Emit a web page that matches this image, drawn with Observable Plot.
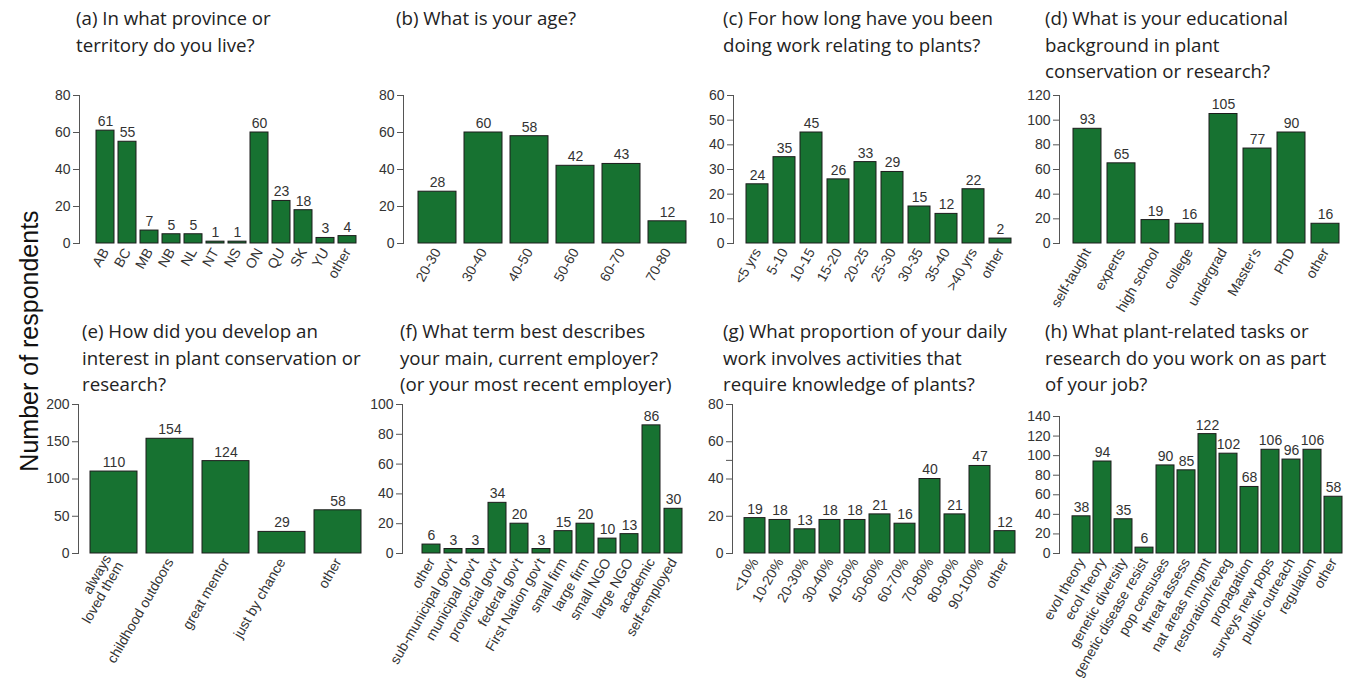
<!DOCTYPE html>
<html>
<head>
<meta charset="utf-8">
<script src="https://cdn.jsdelivr.net/npm/d3@7"></script>
<script src="https://cdn.jsdelivr.net/npm/@observablehq/plot@0.6"></script>
<style>
  html, body { margin: 0; padding: 0; background: #fff; }
  #chart { position: relative; width: 1348px; height: 679px; overflow: hidden; background: #fff; }
  .title { position: absolute; font-family: "Open Sans", sans-serif; font-size: 18.7px; line-height: 26.5px; color: #222; white-space: nowrap; }
  .ylab { position: absolute; font-family: "Liberation Sans", Arial, sans-serif; font-size: 25px; color: #111; white-space: nowrap;
          transform: translate(-50%, -50%) rotate(-90deg); }
  svg.panel { position: absolute; overflow: visible; }
</style>
</head>
<body>
<div id="chart"></div>
<script>
// (a) province or territory
const provinceLabels = ["AB", "BC", "MB", "NB", "NL", "NT", "NS", "ON", "QU", "SK", "YU", "other"];
const provinceCounts = [61, 55, 7, 5, 5, 1, 1, 60, 23, 18, 3, 4];
const provinceTicks = [0, 20, 40, 60, 80];

// (b) age
const ageLabels = ["20-30", "30-40", "40-50", "50-60", "60-70", "70-80"];
const ageCounts = [28, 60, 58, 42, 43, 12];
const ageTicks = [0, 20, 40, 60, 80];

// (c) years working with plants
const yearsLabels = ["<5 yrs", "5-10", "10-15", "15-20", "20-25", "25-30", "30-35", "35-40", ">40 yrs", "other"];
const yearsCounts = [24, 35, 45, 26, 33, 29, 15, 12, 22, 2];
const yearsTicks = [0, 10, 20, 30, 40, 50, 60];

// (d) educational background
const eduLabels = ["self-taught", "experts", "high school", "college", "undergrad", "Master's", "PhD", "other"];
const eduCounts = [93, 65, 19, 16, 105, 77, 90, 16];
const eduTicks = [0, 20, 40, 60, 80, 100, 120];

// (e) how interest developed
const interestLabels = ["always\nloved them", "childhood outdoors", "great mentor", "just by chance", "other"];
const interestCounts = [110, 154, 124, 29, 58];
const interestTicks = [0, 50, 100, 150, 200];

// (f) employer
const employerLabels = ["other", "sub-municipal gov't", "municipal gov't", "provincial gov't", "federal gov't", "First Nation gov't",
  "small firm", "large firm", "small NGO", "large NGO", "academic", "self-employed"];
const employerCounts = [6, 3, 3, 34, 20, 3, 15, 20, 10, 13, 86, 30];
const employerTicks = [0, 20, 40, 60, 80, 100];

// (g) share of work needing plant knowledge
const shareLabels = ["<10%", "10-20%", "20-30%", "30-40%", "40-50%", "50-60%", "60-70%", "70-80%", "80-90%", "90-100%", "other"];
const shareCounts = [19, 18, 13, 18, 18, 21, 16, 40, 21, 47, 12];
const shareTicks = [0, 20, 40, 50, 60, 80];
const shareTickLabels = ["0", "20", "40", "", "60", "80"];

// (h) plant-related tasks
const taskLabels = ["evol theory", "ecol theory", "genetic diversity", "genetic disease resist", "pop censuses", "threat assess",
  "nat areas mngmt", "restoration/reveg", "propagation", "surveys new pops", "public outreach", "regulation", "other"];
const taskCounts = [38, 94, 35, 6, 90, 85, 122, 102, 68, 106, 96, 106, 58];
const taskTicks = [0, 20, 40, 60, 80, 100, 120, 140];

const panels = [
  {labels: provinceLabels, values: provinceCounts, ticks: provinceTicks,
   title: ["(a) In what province or", "territory do you live?"], tx: 76, ty: 5,
   axis: 79, left: 90, right: 362, top: 95, zero: 243},
  {labels: ageLabels, values: ageCounts, ticks: ageTicks,
   title: ["(b) What is your age?"], tx: 396, ty: 5,
   axis: 403, left: 417, right: 688, top: 95, zero: 243},
  {labels: yearsLabels, values: yearsCounts, ticks: yearsTicks,
   title: ["(c) For how long have you been", "doing work relating to plants?"], tx: 723, ty: 5,
   axis: 733, left: 743, right: 1015, top: 95, zero: 243},
  {labels: eduLabels, values: eduCounts, ticks: eduTicks,
   title: ["(d) What is your educational", "background in plant", "conservation or research?"], tx: 1045, ty: 5,
   axis: 1059, left: 1071, right: 1342, top: 95, zero: 243},
  {labels: interestLabels, values: interestCounts, ticks: interestTicks,
   title: ["(e) How did you develop an", "interest in plant conservation or", "research?"], tx: 82, ty: 318,
   axis: 78, left: 89, right: 361, top: 404, zero: 553},
  {labels: employerLabels, values: employerCounts, ticks: employerTicks,
   title: ["(f) What term best describes", "your main, current employer?", "(or your most recent employer)"], tx: 400, ty: 318,
   axis: 402, left: 417, right: 688, top: 404, zero: 553},
  {labels: shareLabels, values: shareCounts, ticks: shareTicks, tickText: shareTickLabels,
   title: ["(g) What proportion of your daily", "work involves activities that", "require knowledge of plants?"], tx: 723, ty: 318,
   axis: 732, left: 743, right: 1015, top: 404, zero: 553},
  {labels: taskLabels, values: taskCounts, ticks: taskTicks,
   title: ["(h) What plant-related tasks or", "research do you work on as part", "of your job?"], tx: 1045, ty: 318,
   axis: 1059, left: 1071, right: 1342, top: 416, zero: 553}
];

const chart = document.getElementById("chart");
const barFill = "#177231";
const mL = 50, mR = 8, mT = 30, mB = 170;

for (const p of panels) {
  const rows = p.labels.map((c, i) => ({cat: c, n: p.values[i]}));
  const yMax = p.ticks[p.ticks.length - 1];
  const fmt = p.tickText ? (d) => p.tickText[p.ticks.indexOf(d)] : (d) => String(d);

  const svg = Plot.plot({
    width: mL + (p.right - p.axis) + mR,
    height: mT + (p.zero - p.top) + mB,
    marginLeft: mL, marginRight: mR, marginTop: mT, marginBottom: mB,
    style: {fontFamily: "'Liberation Sans', Arial, sans-serif", fontSize: "14px", color: "#333", background: "transparent", overflow: "visible"},
    x: {domain: p.labels, paddingInner: 0.2 / 1.2, paddingOuter: 0, insetLeft: p.left - p.axis, label: null},
    y: {domain: [0, yMax], label: null},
    marks: [
      Plot.frame({anchor: "left", stroke: "#555", strokeWidth: 1}),
      Plot.axisY({ticks: p.ticks, tickFormat: fmt, tickSize: 6, tickPadding: 3, stroke: "#555", label: null}),
      Plot.axisX({tickRotate: -60, tickSize: 0, tickPadding: 6, label: null}),
      Plot.barY(rows, {x: "cat", y: "n", fill: barFill, stroke: "#1c1c1c", strokeWidth: 1}),
      Plot.text(rows, {x: "cat", y: "n", text: (d) => String(d.n), dy: -9, fill: "#333"})
    ]
  });
  svg.classList.add("panel");
  svg.style.left = (p.axis - mL) + "px";
  svg.style.top = (p.top - mT) + "px";
  chart.appendChild(svg);

  const t = document.createElement("div");
  t.className = "title";
  t.style.left = p.tx + "px";
  t.style.top = p.ty + "px";
  t.innerHTML = p.title.map((s) => s.replace(/&/g, "&amp;").replace(/</g, "&lt;")).join("<br>");
  chart.appendChild(t);
}

const yl = document.createElement("div");
yl.className = "ylab";
yl.style.left = "29px";
yl.style.top = "341px";
yl.textContent = "Number of respondents";
chart.appendChild(yl);
</script>
</body>
</html>
